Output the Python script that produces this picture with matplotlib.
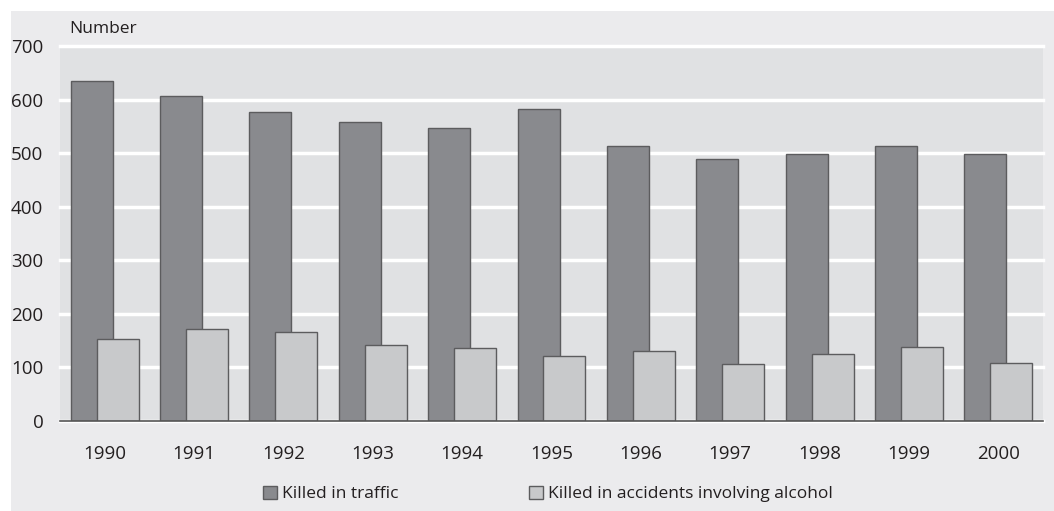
import matplotlib
matplotlib.use("Agg")
import matplotlib.pyplot as plt
from matplotlib.patches import Rectangle
import numpy as np

years = ["1990", "1991", "1992", "1993", "1994", "1995", "1996", "1997", "1998", "1999", "2000"]
killed_traffic = [634, 607, 577, 559, 546, 582, 514, 489, 499, 514, 498]
killed_alcohol = [154, 172, 167, 141, 137, 122, 130, 107, 126, 138, 109]
series_names = ["Killed in traffic", "Killed in accidents involving alcohol"]
yticks = [0, 100, 200, 300, 400, 500, 600, 700]

plt.rcParams['font.family'] = ['Open Sans', 'DejaVu Sans']

W, H = 1054, 511
fig = plt.figure(figsize=(W / 100, H / 100), dpi=100)
fig.patch.set_facecolor("white")
fig.patches.append(Rectangle((11 / W, 0), 1 - 11 / W, 1 - 11 / H, transform=fig.transFigure,
                             facecolor="#ebebed", edgecolor="none", zorder=-10))

ax = fig.add_axes([60 / W, 1 - 421 / H, (1043 - 60) / W, (421 - 46) / H])
ax.set_zorder(1)
ax.set_facecolor("#e0e1e3")

x = np.arange(len(years))
w = 0.47
off = 0.145
ax.bar(x - off, killed_traffic, width=w, color="#898a8e", edgecolor="#5c5c5e", linewidth=1.0, zorder=3,
       label=series_names[0])
ax.bar(x + off, killed_alcohol, width=w, color="#c8c9cb", edgecolor="#5c5c5e", linewidth=1.0, zorder=4,
       label=series_names[1])

ax.set_xlim(-0.5, len(years) - 0.5)
ax.set_ylim(0, 700)
ax.set_yticks(yticks)
ax.set_yticklabels([str(t) for t in yticks], fontsize=13.5, color="#231f20")
ax.set_xticks(x)
ax.set_xticklabels(years, fontsize=13.5, color="#231f20")
ax.tick_params(axis="both", length=0)
ax.tick_params(axis="y", pad=12)
ax.tick_params(axis="x", pad=17)
for s in ["top", "right", "left"]:
    ax.spines[s].set_visible(False)
ax.spines["bottom"].set_color("#555555")
ax.spines["bottom"].set_linewidth(1.2)
ax.spines["bottom"].set_zorder(5)
ax.yaxis.grid(True, color="white", linewidth=2.5, zorder=1)
ax.set_axisbelow(True)
for gl in ax.get_ygridlines():
    gl.set_clip_on(False)

fig.text(69 / W, 1 - 29 / H, "Number", fontsize=12.5, color="#231f20", va="center", ha="left")

leg = fig.legend(loc="center", bbox_to_anchor=(548 / W, 1 - 494 / H), ncol=2, frameon=False,
                 fontsize=12.5, handlelength=0.8, handleheight=0.8, handletextpad=0.3,
                 columnspacing=7.5, labelcolor="#231f20")

fig.savefig("out.png", dpi=100, facecolor=fig.get_facecolor())
